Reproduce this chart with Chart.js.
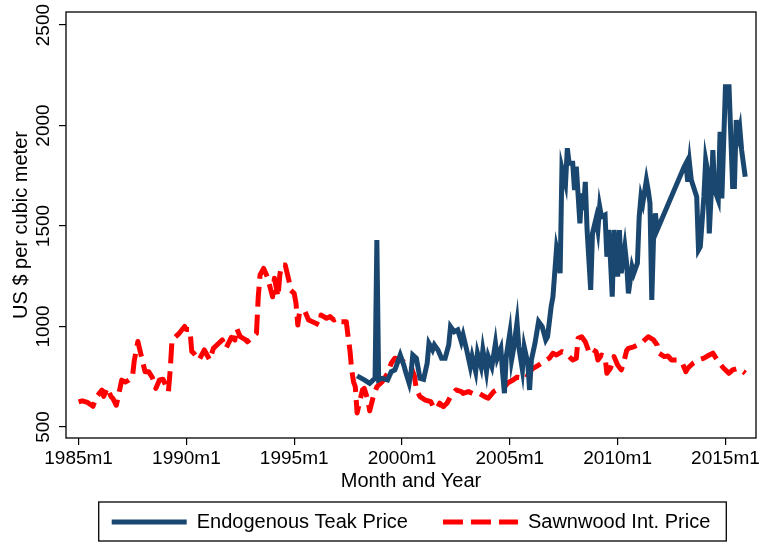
<!DOCTYPE html>
<html>
<head>
<meta charset="utf-8">
<title>Teak and sawnwood prices</title>
<script src="https://cdn.jsdelivr.net/npm/chart.js@4/dist/chart.umd.min.js"></script>
<style>
  html, body { margin: 0; padding: 0; background: #fff; }
  canvas { display: block; }
</style>
</head>
<body>
<canvas id="chart" width="762" height="544"></canvas>
<script>
// Months are counted from 1985m1 (0 = 1985m1, 12 = 1986m1, ...).
const startYear = 1985;

// Sawnwood international price, US$ per cubic meter
const sawnwoodMonth = [0, 2, 5, 8, 10, 13, 14, 16, 18, 19, 21, 23, 24, 26, 28, 30, 31, 33, 35, 37, 39, 41, 43, 45, 47, 50, 51, 52, 56, 59, 60, 62, 63, 64, 67, 70, 73, 75, 77, 80, 82, 85, 87, 88, 90, 93, 94, 96, 99, 100, 101, 103, 105, 107, 108, 109, 111, 112, 113, 115, 117, 118, 120, 121, 122, 123, 126, 128, 132, 134, 135, 138, 140, 142, 145, 146, 149, 150, 151, 152, 153, 154, 155, 158, 159, 161, 162, 164, 166, 169, 172, 174, 176, 179, 182, 185, 187, 188, 190, 193, 196, 198, 200, 201, 203, 205, 207, 210, 213, 214, 217, 220, 223, 226, 228, 231, 234, 237, 239, 242, 244, 249, 251, 253, 256, 259, 262, 264, 266, 269, 271, 273, 275, 277, 278, 280, 282, 284, 285, 288, 289, 291, 293, 294, 296, 298, 300, 302, 303, 305, 306, 309, 311, 314, 317, 320, 322, 323, 326, 328, 330, 333, 336, 338, 339, 342, 345, 348, 351, 353, 356, 359, 362, 364, 367, 370, 371];
const sawnwoodPrice = [625, 630, 622, 603, 650, 683, 652, 695, 652, 643, 608, 690, 733, 724, 733, 750, 830, 925, 850, 775, 775, 747, 692, 734, 737, 676, 784, 933, 966, 1000, 985, 985, 875, 868, 833, 883, 833, 891, 908, 933, 891, 946, 933, 990, 949, 933, 924, 941, 966, 1148, 1256, 1289, 1248, 1181, 1148, 1240, 1148, 1256, 1306, 1306, 1231, 1181, 1165, 1115, 1007, 1074, 1074, 1032, 1016, 1007, 1057, 1041, 1049, 1032, 1041, 1024, 1024, 949, 883, 784, 725, 700, 570, 684, 692, 634, 580, 651, 700, 725, 767, 817, 842, 837, 817, 800, 750, 684, 651, 634, 626, 590, 601, 618, 601, 618, 651, 684, 676, 667, 676, 663, 667, 651, 643, 676, 692, 700, 720, 735, 748, 742, 775, 792, 808, 825, 842, 867, 858, 875, 867, 850, 833, 842, 941, 949, 924, 875, 891, 875, 833, 858, 850, 767, 792, 850, 808, 784, 808, 880, 891, 899, 908, 924, 949, 933, 908, 867, 850, 853, 833, 833, 817, 775, 792, 817, 833, 842, 858, 867, 825, 792, 767, 784, 792, 775, 767];

// Endogenous teak price, US$ per cubic meter
const teakMonth = [155, 159, 162, 164, 165, 166, 167, 169, 172, 174, 176, 177, 179, 181, 182, 184, 185, 186, 188, 189, 190, 192, 194, 195, 197, 198, 200, 202, 204, 206, 207, 209, 211, 213, 214, 216, 218, 219, 221, 222, 224, 225, 227, 228, 230, 232, 233, 235, 236, 237, 238, 240, 241, 242, 244, 245, 247, 248, 250, 251, 252, 254, 256, 258, 260, 261, 263, 264, 266, 267, 268, 269, 271, 272, 273, 275, 276, 277, 279, 280, 281, 282, 283, 285, 286, 288, 289, 290, 291, 293, 294, 295, 296, 297, 298, 300, 301, 302, 304, 305, 306, 308, 309, 311, 312, 313, 314, 316, 317, 318, 319, 320, 321, 322, 337, 338, 339, 340, 341, 344, 345, 346, 348, 349, 350, 351, 352, 353, 354, 356, 357, 358, 360, 362, 363, 364, 365, 366, 367, 368, 369, 371];
const teakPrice = [754, 734, 717, 734, 742, 1430, 734, 742, 734, 775, 784, 808, 858, 808, 775, 717, 767, 858, 842, 792, 742, 737, 817, 916, 883, 908, 883, 842, 842, 908, 999, 974, 983, 924, 958, 883, 800, 850, 775, 867, 800, 883, 775, 850, 800, 916, 842, 890, 770, 668, 850, 966, 833, 883, 1020, 899, 784, 899, 817, 684, 833, 916, 1024, 999, 933, 949, 1099, 1148, 1389, 1347, 1265, 1787, 1712, 1887, 1812, 1812, 1679, 1795, 1513, 1662, 1580, 1720, 1480, 1182, 1463, 1538, 1480, 1596, 1546, 1555, 1347, 1480, 1331, 1148, 1480, 1248, 1480, 1265, 1397, 1314, 1165, 1297, 1265, 1314, 1546, 1646, 1613, 1729, 1679, 1613, 1132, 1447, 1563, 1480, 1795, 1812, 1720, 1812, 1729, 1646, 1381, 1397, 1646, 1829, 1779, 1463, 1646, 1878, 1679, 1629, 1969, 1637, 2193, 2193, 1944, 1696, 1696, 2027, 1944, 1986, 1878, 1745];

// Axis ticks
const xTickMonths = [0, 60, 120, 180, 240, 300, 360];
const xTickLabels = ['1985m1', '1990m1', '1995m1', '2000m1', '2005m1', '2010m1', '2015m1'];
const yTickValues = [500, 1000, 1500, 2000, 2500];

const seriesNames = ['Endogenous Teak Price', 'Sawnwood Int. Price'];

const toPoints = (months, values) => months.map((m, i) => ({ x: m, y: values[i] }));

const FONT = '"Liberation Sans", Arial, Helvetica, sans-serif';
Chart.defaults.font.family = FONT;
Chart.defaults.color = '#000';

const DASH = [20, 8];

// Black frame around the plot region
const plotFrame = {
  id: 'plotFrame',
  afterDatasetsDraw(chart) {
    const { ctx, chartArea: a } = chart;
    ctx.save();
    ctx.strokeStyle = '#000';
    ctx.lineWidth = 1.3;
    ctx.strokeRect(a.left, a.top, a.right - a.left, a.bottom - a.top);
    ctx.restore();
  }
};

// Box around the legend entries
const legendFrame = {
  id: 'legendFrame',
  afterDraw(chart) {
    const lg = chart.legend;
    if (!lg || !lg.legendHitBoxes || !lg.legendHitBoxes.length) return;
    const hb = lg.legendHitBoxes;
    const first = hb[0], last = hb[hb.length - 1];
    const left = first.left - 13;
    const right = last.left + last.width + 16;
    const cy = first.top + first.height / 2;
    const { ctx } = chart;
    ctx.save();
    ctx.strokeStyle = '#000';
    ctx.lineWidth = 1.3;
    ctx.strokeRect(left, cy - 20, right - left, 39);
    ctx.restore();
  }
};

new Chart(document.getElementById('chart'), {
  type: 'line',
  data: {
    datasets: [
      {
        label: seriesNames[0],
        data: toPoints(teakMonth, teakPrice),
        borderColor: '#1a476f',
        backgroundColor: '#1a476f',
        borderWidth: 5,
        pointRadius: 0,
        tension: 0,
        fill: false
      },
      {
        label: seriesNames[1],
        data: toPoints(sawnwoodMonth, sawnwoodPrice),
        borderColor: '#ff0000',
        backgroundColor: '#ff0000',
        borderWidth: 5,
        borderDash: DASH,
        borderJoinStyle: 'round',
        pointRadius: 0,
        tension: 0,
        fill: false
      }
    ]
  },
  options: {
    responsive: false,
    animation: false,
    devicePixelRatio: 1,
    layout: { padding: { left: 0, right: 5, top: 12, bottom: 2 } },
    plugins: {
      tooltip: { enabled: false },
      legend: {
        position: 'bottom',
        fullSize: false,
        labels: {
          usePointStyle: true,
          pointStyle: 'line',
          pointStyleWidth: 75,
          padding: 35,
          color: '#000',
          font: { size: 20, family: FONT },
          generateLabels(chart) {
            const items = Chart.defaults.plugins.legend.labels.generateLabels(chart);
            items.forEach(item => {
              const ds = chart.data.datasets[item.datasetIndex];
              item.lineDash = ds.borderDash || [];
              item.lineWidth = ds.borderWidth;
              item.strokeStyle = ds.borderColor;
              item.lineCap = 'butt';
            });
            return items;
          }
        }
      }
    },
    scales: {
      x: {
        type: 'linear',
        min: -7,
        max: 377,
        afterBuildTicks(scale) {
          scale.ticks = xTickMonths.map(v => ({ value: v }));
        },
        afterFit(scale) { scale.height = 39; },
        ticks: {
          autoSkip: false,
          maxRotation: 0,
          minRotation: 0,
          padding: 2,
          color: '#000',
          font: { size: 19, family: FONT },
          callback(value) {
            const i = xTickMonths.indexOf(value);
            return i >= 0 ? xTickLabels[i] : '';
          }
        },
        grid: { drawOnChartArea: false, drawTicks: true, tickLength: 7, color: '#000', lineWidth: 1.2 },
        border: { display: false },
        title: {
          display: true,
          text: 'Month and Year',
          color: '#000',
          font: { size: 20, family: FONT },
          padding: { top: 0, bottom: -16 }
        }
      },
      y: {
        type: 'linear',
        min: 445,
        max: 2565,
        afterBuildTicks(scale) {
          scale.ticks = yTickValues.map(v => ({ value: v }));
        },
        afterFit(scale) { scale.width = 66; },
        ticks: {
          autoSkip: false,
          minRotation: 90,
          maxRotation: 90,
          crossAlign: 'center',
          padding: -6,
          color: '#000',
          font: { size: 19, family: FONT },
          callback(value) { return String(value); }
        },
        grid: { drawOnChartArea: false, drawTicks: true, tickLength: 7, color: '#000', lineWidth: 1.2 },
        border: { display: false },
        title: {
          display: true,
          text: 'US $ per cubic meter',
          color: '#000',
          font: { size: 20, family: FONT },
          padding: { top: 9, bottom: 0 }
        }
      }
    }
  },
  plugins: [plotFrame, legendFrame]
});
</script>
</body>
</html>
